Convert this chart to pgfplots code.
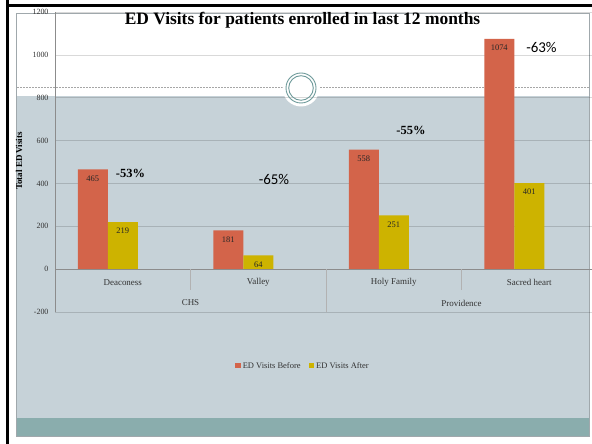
\documentclass[border=0pt]{standalone}
\usepackage{pgfplots}
\pgfplotsset{compat=1.18}
\usepackage{fontspec}
\setmainfont{Liberation Serif}
\newfontfamily\calibri{Carlito}
\definecolor{bgblue}{HTML}{C6D2D8}
\definecolor{bandteal}{HTML}{8AADAD}
\definecolor{ringteal}{HTML}{6E9A9A}
\definecolor{before}{HTML}{D3644A}
\definecolor{after}{HTML}{CDB300}
\definecolor{framegray}{HTML}{A0A8AC}
\begin{document}
\begin{tikzpicture}[x=1bp,y=1bp]
\path[use as bounding box] (0,0) rectangle (592,444);
\fill[white] (0,0) rectangle (592,444);
\fill[bgblue] (17,26) rectangle (589,348);
\fill[bandteal] (17,8) rectangle (589,26);
\draw[framegray, line width=0.6bp] (16.5,7.5) rectangle (589,430.5);
\draw[black!35, line width=0.5bp, dash pattern=on 2bp off 1bp] (17,357) -- (589,357);
\fill[white] (301,356) circle (18.5);
\fill[black] (6,0) rectangle (9,444);
\fill[black] (6,437) rectangle (592,439.5);
\begin{axis}[
  at={(55bp,132bp)}, anchor=south west,
  scale only axis, width=542bp, height=300bp,
  xmin=-0.5, xmax=3.5, ymin=-200, ymax=1200,
  clip=false,
  axis line style={draw=none},
  major tick length=0pt,
  xtick=\empty,
  ytick={-200,0,200,400,600,800,1000,1200},
  ymajorgrids,
  grid style={black, opacity=0.15, line width=0.6bp},
  yticklabel style={font=\fontsize{8}{9}\selectfont, text=black!80, xshift=-3bp},
  /pgf/number format/assume math mode=true,
  /pgf/number format/1000 sep={},
  ybar, bar width=30bp,
  legend style={at={(0.4576,-0.18)}, anchor=center, draw=none, fill=none, legend columns=2,
    font=\fontsize{8.5}{10}\selectfont, text=black!80,
    /tikz/every even column/.append style={column sep=6bp}},
  legend image code/.code={\fill[#1] (0bp,-2.5bp) rectangle (5.5bp,3bp);},
  nodes near coords,
  every node near coord/.append style={font=\fontsize{8.5}{10}\selectfont, inner sep=0pt, yshift=-12bp, text=black!85},
]
\addplot[fill=before, draw=none, bar shift=-30bp] coordinates {(0,465) (1,181) (2,558) (3,1074)};
\addplot[fill=after, draw=none, bar shift=0bp] coordinates {(0,219) (1,64) (2,251) (3,401)};
\legend{ED Visits Before, ED Visits After}
\draw[black!45] (axis cs:-0.5,-200) -- (axis cs:-0.5,1200);
\draw[black!45, line width=0.7bp] (axis cs:-0.5,0) -- (axis cs:3.5,0);
\draw[black!30] (axis cs:0.5,0) -- (axis cs:0.5,-98);
\draw[black!30] (axis cs:1.5,0) -- (axis cs:1.5,-200);
\draw[black!30] (axis cs:2.5,0) -- (axis cs:2.5,-98);
\node[font=\fontsize{9}{10}\selectfont, text=black!80] at (axis cs:0,-61) {Deaconess};
\node[font=\fontsize{9}{10}\selectfont, text=black!80] at (axis cs:1,-61) {Valley};
\node[font=\fontsize{9}{10}\selectfont, text=black!80] at (axis cs:2,-61) {Holy Family};
\node[font=\fontsize{9}{10}\selectfont, text=black!80] at (axis cs:3,-61) {Sacred heart};
\node[font=\fontsize{9}{10}\selectfont, text=black!80] at (axis cs:0.5,-158) {CHS};
\node[font=\fontsize{9}{10}\selectfont, text=black!80] at (axis cs:2.5,-158) {Providence};
\node[font=\fontsize{12.5}{14}\selectfont\bfseries] at (axis cs:0.057,448) {-53\%};
\node[font=\calibri\fontsize{15}{17}\selectfont] at (axis cs:1.116,420) {-65\%};
\node[font=\fontsize{12.5}{14}\selectfont\bfseries] at (axis cs:2.127,649) {-55\%};
\node[font=\calibri\fontsize{15}{17}\selectfont] at (axis cs:3.09,1036) {-63\%};
\end{axis}
\draw[ringteal, line width=0.9bp] (301,356) circle (15);
\draw[ringteal, line width=0.9bp] (301,356) circle (12.3);
\node[font=\fontsize{17.5}{20}\selectfont\bfseries] at (302.5,424) {ED Visits for patients enrolled in last 12 months};
\node[font=\fontsize{9}{10}\selectfont\bfseries, rotate=90] at (19,283) {Total ED Visits};
\end{tikzpicture}
\end{document}
